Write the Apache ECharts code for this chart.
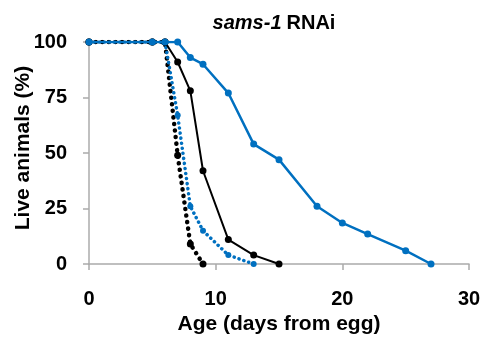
<!DOCTYPE html>
<html>
<head>
<meta charset="utf-8">
<script src="https://cdn.jsdelivr.net/npm/echarts@6/dist/echarts.min.js"></script>
<style>
  html, body { margin: 0; padding: 0; background: #fff; }
  #chart { width: 483px; height: 341px; }
</style>
</head>
<body>
<div id="chart"></div>
<script>
// survival data (day, % alive)
const blueSolidDays = [0, 5, 6, 7, 8, 9, 11, 13, 15, 18, 20, 22, 25, 27];
const blueSolidVals = [100, 100, 100, 100, 93, 90, 77, 54, 47, 26, 18.5, 13.5, 6, 0];
const blackSolidDays = [0, 5, 6, 7, 8, 9, 11, 13, 15];
const blackSolidVals = [100, 100, 100, 91, 78, 42, 11, 4, 0];
const blueDotDays = [0, 5, 6, 7, 8, 9, 11, 13];
const blueDotVals = [100, 100, 100, 67, 26, 15, 4, 0];
const blackDotDays = [0, 5, 6, 7, 8, 9];
const blackDotVals = [100, 100, 100, 49, 9, 0];
const xTicks = [0, 10, 20, 30];
const yTicks = [0, 25, 50, 75, 100];

const BLUE = '#0070C0';
const BLACK = '#000000';
const FONT = 'Liberation Sans';

const pairs = (xs, ys) => xs.map((x, i) => [x, ys[i]]);

const chart = echarts.init(document.getElementById('chart'));

// axis look, shared
const axisGray = { lineStyle: { color: '#ABABAB', width: 1.5 } };
const tickGray = { show: true, length: 6, lineStyle: { color: '#ABABAB', width: 1.5 } };
const labelFont = { fontFamily: FONT, fontSize: 20, fontWeight: 'bold', color: '#000' };
const nameFont = { fontFamily: FONT, fontSize: 21, fontWeight: 'bold', color: '#000' };

const options = {
  animation: false,
  title: {
    text: '{i|sams-1} {b|RNAi}',
    left: 269,
    top: 8,
    textAlign: 'center',
    textStyle: {
      rich: {
        i: { fontFamily: FONT, fontSize: 20, fontWeight: 'bold', fontStyle: 'italic', color: '#000' },
        b: { fontFamily: FONT, fontSize: 20, fontWeight: 'bold', color: '#000' }
      }
    }
  },
  grid: {
    left: 89,
    right: 14,
    top: 42,
    bottom: 77,
    outerBoundsMode: 'none'
  },
  xAxis: {
    type: 'value',
    min: 0,
    max: 30,
    interval: 10,
    name: 'Age (days from egg)',
    nameLocation: 'middle',
    nameGap: 50,
    nameMoveOverlap: false,
    nameTextStyle: nameFont,
    axisLine: axisGray,
    axisTick: tickGray,
    splitLine: { show: false },
    axisLabel: Object.assign({}, labelFont, {
      margin: 25,
      formatter: v => (xTicks.includes(v) ? String(v) : '')
    })
  },
  yAxis: {
    type: 'value',
    min: 0,
    max: 100,
    interval: 25,
    name: 'Live animals (%)',
    nameLocation: 'middle',
    nameGap: 55,
    nameMoveOverlap: false,
    nameTextStyle: Object.assign({}, nameFont, { padding: [0, 0, 0, 10] }),
    axisLine: axisGray,
    axisTick: tickGray,
    splitLine: { show: false },
    axisLabel: Object.assign({}, labelFont, {
      margin: 22,
      formatter: v => (yTicks.includes(v) ? String(v) : '')
    })
  },
  series: [
    {
      name: 'black dotted',
      type: 'line',
      data: pairs(blackDotDays, blackDotVals),
      symbol: 'circle',
      symbolSize: 7,
      itemStyle: { color: BLACK },
      lineStyle: { color: BLACK, width: 4.5, type: [0.1, 6.5], cap: 'round' },
      z: 2
    },
    {
      name: 'blue dotted',
      type: 'line',
      data: pairs(blueDotDays, blueDotVals),
      symbol: 'circle',
      symbolSize: 6,
      itemStyle: { color: BLUE },
      lineStyle: { color: BLUE, width: 3.5, type: [0.1, 5], cap: 'round' },
      z: 3
    },
    {
      name: 'black solid',
      type: 'line',
      data: pairs(blackSolidDays, blackSolidVals),
      symbol: 'circle',
      symbolSize: 7,
      itemStyle: { color: BLACK },
      lineStyle: { color: BLACK, width: 2 },
      z: 4
    },
    {
      name: 'blue solid',
      type: 'line',
      data: pairs(blueSolidDays, blueSolidVals),
      symbol: 'circle',
      symbolSize: 7,
      itemStyle: { color: BLUE },
      lineStyle: { color: BLUE, width: 2.5 },
      z: 5
    }
  ]
};

chart.setOption(options);
</script>
</body>
</html>
